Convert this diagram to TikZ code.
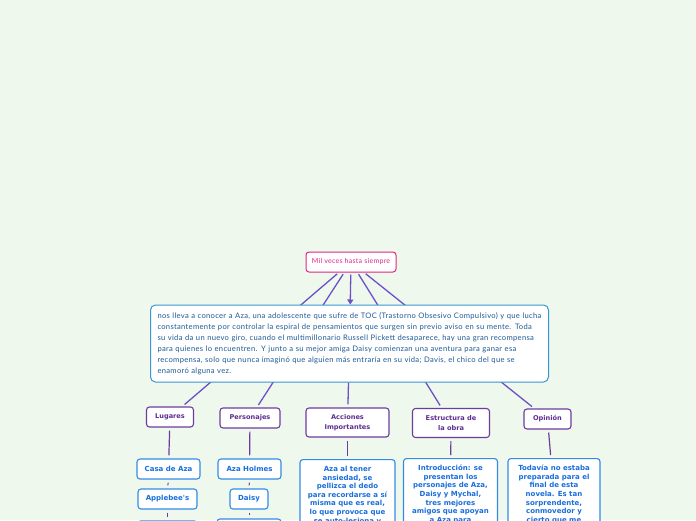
\documentclass[tikz,border=0pt]{standalone}
\usepackage{fontspec}
\setmainfont{Lato}
\newfontfamily\parafont[LetterSpace=4]{Lato}
\newfontfamily\boldsans{DejaVu Sans}
\usetikzlibrary{arrows.meta}
\pgfdeclarelayer{back}
\pgfsetlayers{back,main}
\definecolor{bgc}{RGB}{238,248,236}
\definecolor{pinkc}{RGB}{224,38,133}
\definecolor{parab}{RGB}{58,150,210}
\definecolor{parat}{RGB}{30,90,150}
\definecolor{catb}{RGB}{110,60,160}
\definecolor{catt}{RGB}{95,45,145}
\definecolor{subb}{RGB}{50,140,230}
\definecolor{subt}{RGB}{25,110,220}
\definecolor{linec}{RGB}{110,80,200}
\begin{document}
\begin{tikzpicture}[x=1pt,y=-1pt,
  titlebox/.style={draw=pinkc, fill=white, rounded corners=3pt, line width=1pt, minimum width=90pt, minimum height=20pt, inner sep=0pt, text=pinkc, font=\parafont\fontsize{7}{8}\selectfont},
  parabox/.style={draw=parab, fill=white, rounded corners=5pt, line width=1pt, text=parat, text width=384pt, align=left, inner xsep=7pt, minimum height=77pt, font=\parafont\fontsize{7.6}{11}\selectfont},
  catbox/.style={draw=catb, fill=white, rounded corners=3pt, line width=1.1pt, text=catt, align=center, inner sep=0pt, font=\boldsans\bfseries\fontsize{6.6}{9.4}\selectfont},
  subbox/.style={draw=subb, fill=white, rounded corners=3pt, line width=1.1pt, text=subt, align=center, inner sep=0pt, font=\boldsans\bfseries\fontsize{7}{8.6}\selectfont},
  longbox/.style={subbox, anchor=north, inner ysep=6.5pt, font=\boldsans\bfseries\fontsize{7}{8.65}\selectfont},
  conn/.style={draw=linec, line width=1.3pt, shorten <=2pt, shorten >=3pt},
  conn2/.style={draw=catb, line width=1.2pt, shorten <=3pt, shorten >=3pt},
  tickc/.style={draw=catb, line width=1pt, shorten <=3pt, shorten >=3pt}]
\clip (0,0) rectangle (696,520);
\begin{pgfonlayer}{back}
\fill[bgc] (0,0) rectangle (696,520);
\end{pgfonlayer}
\node[titlebox] (title) at (351,262) {Mil veces hasta siempre};
\node[parabox] (para) at (349.5,343.5) {nos lleva a conocer a Aza, una adolescente que sufre de TOC (Trastorno Obsesivo Compulsivo) y que lucha\\
constantemente por controlar la espiral de pensamientos que surgen sin previo aviso en su mente. Toda\\
su vida da un nuevo giro, cuando el multimillonario Russell Pickett desaparece, hay una gran recompensa\\
para quienes lo encuentren. Y junto a su mejor amiga Daisy comienzan una aventura para ganar esa\\
recompensa, solo que nunca imaginó que alguien más entraría en su vida; Davis, el chico del que se\\
enamoró alguna vez.};
\node[catbox, minimum width=47pt, minimum height=20pt] (lug) at (170,417) {Lugares};
\node[catbox, minimum width=60pt, minimum height=20pt] (pers) at (250,418) {Personajes};
\node[catbox, minimum width=83pt, minimum height=29pt] (acc) at (347.5,422.5) {Acciones\\Importantes};
\node[catbox, minimum width=77pt, minimum height=29pt] (est) at (451,423) {Estructura de\\la obra};
\node[catbox, minimum width=47pt, minimum height=20pt] (opi) at (547.5,419) {Opinión};
\node[subbox, minimum width=63pt, minimum height=20pt] (casa) at (168.5,469) {Casa de Aza};
\node[subbox, minimum width=59pt, minimum height=20pt] (apple) at (167.5,499) {Applebee's};
\node[subbox, minimum width=60pt, minimum height=20pt] (lug3) at (167.5,531) {};
\node[subbox, minimum width=63pt, minimum height=20pt] (aza) at (249.5,469) {Aza Holmes};
\node[subbox, minimum width=38pt, minimum height=20pt] (daisy) at (249,499) {Daisy};
\node[subbox, minimum width=64pt, minimum height=22pt] (pers3) at (249,530) {};
\node[longbox, minimum width=95pt] (accT) at (347.5,459) {Aza al tener\\ansiedad, se\\pellizca el dedo\\para recordarse a sí\\misma que es real,\\lo que provoca que\\se auto-lesiona y};
\node[longbox, minimum width=94pt] (estT) at (450.5,458) {Introducción: se\\presentan los\\personajes de Aza,\\Daisy y Mychal,\\tres mejores\\amigos que apoyan\\a Aza para};
\node[longbox, minimum width=92pt] (opiT) at (554,458) {Todavía no estaba\\preparada para el\\final de esta\\novela. Es tan\\sorprendente,\\conmovedor y\\cierto que me};
\begin{pgfonlayer}{back}
\draw[conn] (title) -- (lug);
\draw[conn] (title) -- (pers);
\draw[conn] (title) -- (est);
\draw[conn] (title) -- (opi);
\end{pgfonlayer}
\draw[conn, shorten >=0pt, -{Triangle[width=6pt,length=5pt]}] (title) -- (para);
\draw[conn, shorten <=0pt] (para) -- (acc);
\draw[conn2] (lug) -- (casa);
\draw[conn2] (pers) -- (aza);
\draw[conn2] (acc) -- (accT);
\draw[conn2] (est) -- (estT);
\draw[conn2] (opi) -- (opiT);
\draw[tickc] (casa) -- (apple);
\draw[tickc] (apple) -- (lug3);
\draw[tickc] (aza) -- (daisy);
\draw[tickc] (daisy) -- (pers3);
\end{tikzpicture}
\end{document}
